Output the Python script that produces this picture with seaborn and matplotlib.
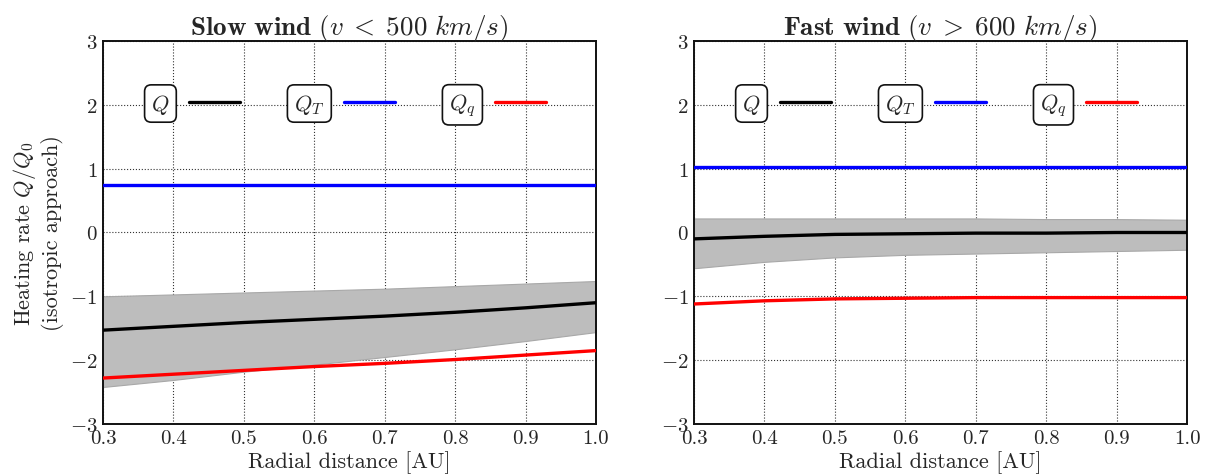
import numpy as np
import pandas as pd
import matplotlib
matplotlib.use("Agg")
import matplotlib.pyplot as plt
from matplotlib.lines import Line2D
import seaborn as sns

# Radial grid (AU)
r = [0.3, 0.4, 0.5, 0.6, 0.7, 0.8, 0.9, 1.0]

# Slow wind (v < 500 km/s)
slow_Q = [-1.53, -1.47, -1.41, -1.36, -1.31, -1.25, -1.18, -1.10]
slow_Q_hi = [-1.00, -0.97, -0.94, -0.91, -0.88, -0.84, -0.80, -0.76]
slow_Q_lo = [-2.42, -2.31, -2.18, -2.07, -1.95, -1.83, -1.70, -1.56]
slow_QT = [0.75, 0.75, 0.75, 0.75, 0.75, 0.75, 0.75, 0.75]
slow_Qq = [-2.28, -2.22, -2.16, -2.10, -2.05, -1.99, -1.92, -1.85]

# Fast wind (v > 600 km/s)
fast_Q = [-0.10, -0.06, -0.03, -0.02, -0.01, -0.01, 0.00, 0.00]
fast_Q_hi = [0.22, 0.22, 0.22, 0.22, 0.22, 0.21, 0.21, 0.20]
fast_Q_lo = [-0.56, -0.46, -0.39, -0.35, -0.33, -0.31, -0.29, -0.27]
fast_QT = [1.03, 1.03, 1.03, 1.03, 1.03, 1.03, 1.03, 1.03]
fast_Qq = [-1.12, -1.07, -1.04, -1.03, -1.02, -1.02, -1.02, -1.02]

x_ticks = [0.3, 0.4, 0.5, 0.6, 0.7, 0.8, 0.9, 1.0]
y_ticks = [-3, -2, -1, 0, 1, 2, 3]

series_labels = [r"$Q$", r"$Q_T$", r"$Q_q$"]
series_colors = ["black", "blue", "red"]

sns.set_theme(style="whitegrid")
plt.rcParams.update({
    "font.family": "serif",
    "font.serif": ["cmr10"],
    "mathtext.fontset": "cm",
    "axes.formatter.use_mathtext": True,
    "axes.unicode_minus": True,
    "axes.edgecolor": "#111111",
    "axes.linewidth": 1.4,
    "grid.color": "#333333",
    "grid.linestyle": ":",
    "grid.linewidth": 0.8,
    "xtick.direction": "in",
    "ytick.direction": "in",
})

fig = plt.figure(figsize=(12.07, 4.77), dpi=100)
ax_l = fig.add_axes([0.0853, 0.109, 0.4085, 0.803])
ax_r = fig.add_axes([0.575, 0.109, 0.4085, 0.803])

panels = [
    (ax_l, r"$\mathbf{Slow\ wind}\ (v\;<\;500\ km/s)$", slow_Q, slow_Q_lo, slow_Q_hi, slow_QT, slow_Qq),
    (ax_r, r"$\mathbf{Fast\ wind}\ (v\;>\;600\ km/s)$", fast_Q, fast_Q_lo, fast_Q_hi, fast_QT, fast_Qq),
]

for ax, title, q, lo, hi, qt, qq in panels:
    df = pd.DataFrame({"r": r, "Q": q, "QT": qt, "Qq": qq})
    ax.fill_between(df["r"], lo, hi, color="#bdbdbd", edgecolor="#a8a8a8", linewidth=0.8, zorder=2)
    for col, c in zip(["Q", "QT", "Qq"], series_colors):
        sns.lineplot(data=df, x="r", y=col, ax=ax, color=c, linewidth=2.4, zorder=3)
    ax.set_xlim(0.3, 1.0)
    ax.set_ylim(-3, 3)
    ax.set_xticks(x_ticks)
    ax.set_yticks(y_ticks)
    ax.set_xticklabels([f"{v:.1f}" for v in x_ticks])
    ax.tick_params(labelsize=15, length=0, pad=4)
    ax.grid(True, zorder=1)
    ax.set_axisbelow(True)
    ax.set_title(title, fontsize=19.5, pad=5)
    ax.set_xlabel("Radial distance [AU]", fontsize=16, labelpad=2)
    ax.set_ylabel("")
    for s in ax.spines.values():
        s.set_visible(True)
        s.set_color("#111111")

    handles = [Line2D([], [], color=c, linewidth=2.4) for c in series_colors]
    leg = ax.legend(handles, series_labels, ncol=3, markerfirst=False, loc="center",
                    bbox_to_anchor=(0.6486, 2.0), bbox_transform=ax.transData,
                    frameon=False, fontsize=16, handlelength=2.3, handletextpad=0.85,
                    columnspacing=2.45, borderpad=0.2)
    for t in leg.get_texts():
        t.set_bbox(dict(boxstyle="round,pad=0.3", facecolor="white", edgecolor="#111111", linewidth=1.2))

ax_l.set_ylabel("Heating rate $Q/Q_0$\n(isotropic approach)", fontsize=16, labelpad=4)

fig.savefig("out.png", dpi=100, facecolor="white")
